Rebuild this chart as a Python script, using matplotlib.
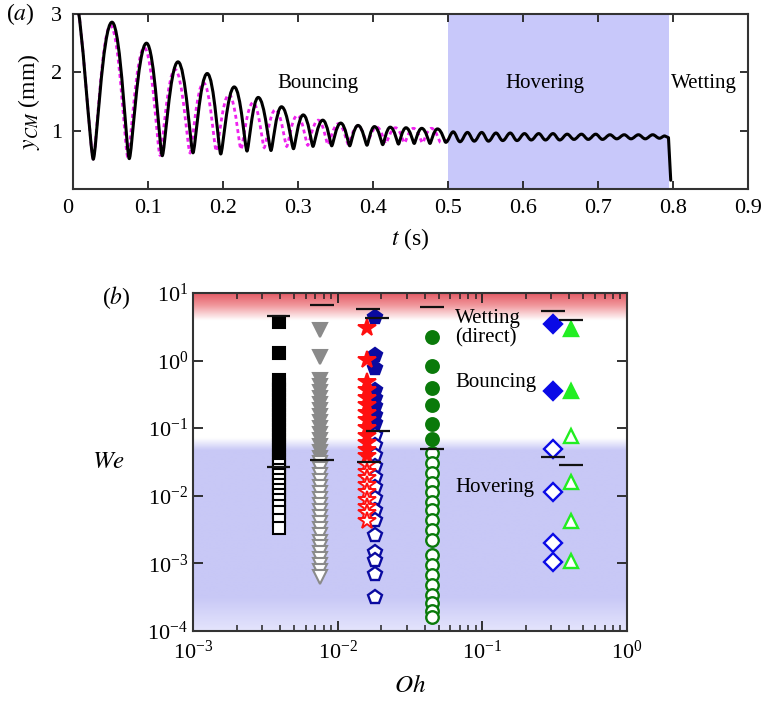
import numpy as np
import matplotlib
matplotlib.use("Agg")
import matplotlib.pyplot as plt
from matplotlib.path import Path
from matplotlib.patches import PathPatch
from matplotlib.ticker import LogLocator, NullFormatter

plt.rcParams['font.family'] = ['Liberation Serif', 'DejaVu Serif']
plt.rcParams['mathtext.fontset'] = 'stix'
plt.rcParams['xtick.direction'] = 'in'
plt.rcParams['ytick.direction'] = 'in'
plt.rcParams['xtick.top'] = True
plt.rcParams['ytick.right'] = True

# --- panel (a): centre-of-mass height, extrema ---
blk_tr_t = [0.027, 0.075, 0.119, 0.160, 0.197, 0.232, 0.264, 0.294, 0.320, 0.345,
            0.369, 0.392, 0.413, 0.434, 0.455, 0.476, 0.497]
blk_tr_y = [0.51, 0.52, 0.57, 0.62, 0.60, 0.65, 0.66, 0.69, 0.73, 0.74,
            0.74, 0.75, 0.76, 0.77, 0.78, 0.78, 0.80]
blk_pk_t = [0.052, 0.098, 0.140, 0.179, 0.215, 0.247, 0.278, 0.307, 0.333, 0.357,
            0.380, 0.402, 0.423, 0.444, 0.465, 0.486]
blk_pk_y = [2.86, 2.50, 2.18, 1.98, 1.75, 1.57, 1.41, 1.27, 1.18, 1.13,
            1.09, 1.07, 1.06, 1.05, 1.04, 1.03]
blk_start = (0.005, 3.15)

hover_t = [0.507, 0.516, 0.526, 0.535, 0.545, 0.554, 0.564, 0.573, 0.583, 0.592,
           0.602, 0.611, 0.621, 0.630, 0.640, 0.649, 0.659, 0.668, 0.678, 0.687,
           0.697, 0.706, 0.716, 0.725, 0.735, 0.744, 0.754, 0.763, 0.773, 0.782, 0.789]
hover_y = [0.98, 0.81, 0.97, 0.82, 0.97, 0.82, 0.96, 0.83, 0.96, 0.83,
           0.95, 0.84, 0.95, 0.84, 0.95, 0.84, 0.94, 0.85, 0.94, 0.85,
           0.94, 0.85, 0.93, 0.86, 0.93, 0.86, 0.93, 0.86, 0.93, 0.87, 0.91]
drop_t = [0.794, 0.797]
drop_y = [0.88, 0.15]

mag_tr_t = [0.027, 0.073, 0.116, 0.156, 0.191, 0.224, 0.255, 0.285, 0.313, 0.340,
            0.367, 0.392, 0.417, 0.442, 0.466, 0.490]
mag_tr_y = [0.52, 0.55, 0.58, 0.62, 0.65, 0.68, 0.71, 0.73, 0.75, 0.76,
            0.77, 0.78, 0.78, 0.79, 0.79, 0.80]
mag_pk_t = [0.050, 0.095, 0.136, 0.174, 0.208, 0.240, 0.270, 0.299, 0.327, 0.354,
            0.380, 0.405, 0.430, 0.454, 0.478]
mag_pk_y = [2.80, 2.42, 2.05, 1.82, 1.62, 1.48, 1.36, 1.26, 1.18, 1.12,
            1.08, 1.06, 1.05, 1.04, 1.04]
mag_start = (0.005, 3.15)
mag_end = (0.500, 0.84)

hover_span = (0.5, 0.795)
xticks_a = [0, 0.1, 0.2, 0.3, 0.4, 0.5, 0.6, 0.7, 0.8, 0.9]
xlabels_a = ["0", "0.1", "0.2", "0.3", "0.4", "0.5", "0.6", "0.7", "0.8", "0.9"]

# --- panel (b): regime map We vs Oh ---
sq_oh = 0.0039
sq_fill = [3.76, 1.29, 0.516, 0.435, 0.367, 0.310, 0.261, 0.220, 0.186, 0.157,
           0.132, 0.111, 0.094, 0.079, 0.067, 0.056, 0.048, 0.040, 0.034]
sq_open = [0.0286, 0.0241, 0.0204, 0.0171, 0.0144, 0.0122, 0.0103, 0.0087,
           0.0071, 0.0058, 0.0044, 0.0033]

tri_oh = 0.0076
tri_fill = [2.84, 1.13, 0.516, 0.421, 0.343, 0.280, 0.228, 0.186, 0.152, 0.124,
            0.101, 0.082, 0.067, 0.055, 0.045, 0.036]
tri_open = [0.0306, 0.0249, 0.0204, 0.0166, 0.0135, 0.0110, 0.0090, 0.0073,
            0.0060, 0.0049, 0.0040, 0.0032, 0.0026, 0.0021, 0.00175, 0.00143,
            0.00116, 0.00095, 0.00077, 0.00063]

star_oh = 0.0159
star_fill = [3.03, 1.02, 0.48, 0.37, 0.28, 0.22, 0.168, 0.132, 0.10, 0.077,
             0.060, 0.048, 0.039]
star_open = [0.0286, 0.0225, 0.0183, 0.0144, 0.0114, 0.0087, 0.0068, 0.0056, 0.0043]

pent_oh = 0.0181
pent_fill = [4.4, 1.21, 0.78, 0.37, 0.28, 0.21, 0.157, 0.12]
pent_open = [0.079, 0.056, 0.040, 0.0276, 0.019, 0.0135, 0.0093, 0.0062,
             0.0044, 0.0026, 0.00147, 0.00112, 0.0007, 0.00032]

circ_oh = 0.0447
circ_fill = [2.2, 0.83, 0.40, 0.22, 0.117, 0.069]
circ_open = [0.043, 0.0306, 0.0217, 0.0155, 0.0114, 0.0081, 0.0062, 0.0044,
             0.0031, 0.0022, 0.00133, 0.00095, 0.00068, 0.00048, 0.00034,
             0.00026, 0.00020, 0.00016]

diam_oh = 0.309
diam_fill = [3.44, 0.36]
diam_open = [0.050, 0.0115, 0.0020, 0.00104]

gtri_oh = 0.41
gtri_fill = [2.9, 0.35]
gtri_open = [0.077, 0.016, 0.0043, 0.00107]

bar_oh = [0.0039, 0.0039, 0.0078, 0.0078, 0.0161, 0.0164, 0.0187, 0.0190,
          0.0447, 0.0447, 0.309, 0.309, 0.41, 0.41]
bar_we = [4.5, 0.027, 6.6, 0.034, 5.9, 0.032, 4.3, 0.091,
          6.2, 0.049, 5.4, 0.038, 4.0, 0.029]


def seg(verts, codes, tb, yb, k_a, k_b):
    # cubic piece with flat tangents at both ends (k = handle length fraction)
    ta, ya = verts[-1]
    dt = tb - ta
    verts += [(ta + k_a * dt, ya), (tb - k_b * dt, yb), (tb, yb)]
    codes += [Path.CURVE4, Path.CURVE4, Path.CURVE4]


def bounce_path(start, tr_t, tr_y, pk_t, pk_y, end=None):
    # round-bottomed impacts, broad apexes
    t0, y0 = start
    verts = [(t0, y0)]
    codes = [Path.MOVETO]
    seg(verts, codes, tr_t[0], tr_y[0], 0.25, 0.15)
    for i in range(len(pk_t)):
        seg(verts, codes, pk_t[i], pk_y[i], 0.15, 0.5)
        seg(verts, codes, tr_t[i + 1], tr_y[i + 1], 0.5, 0.15)
    if end is not None:
        verts.append(end)
        codes.append(Path.LINETO)
    return verts, codes


def wave_path(verts, codes, ext_t, ext_y):
    # smooth half-waves between successive extrema
    for tb, yb in zip(ext_t, ext_y):
        seg(verts, codes, tb, yb, 0.3642, 0.3642)
    return verts, codes


fig = plt.figure(figsize=(7.62, 7.01), dpi=100)

# ---------------- (a) ----------------
ax1 = fig.add_axes([0.0958, 0.7304, 0.8858, 0.2496])
ax1.axvspan(*hover_span, color='#c8c8fa', lw=0, zorder=0)

v, c = bounce_path(mag_start, mag_tr_t, mag_tr_y, mag_pk_t, mag_pk_y, end=mag_end)
ax1.add_patch(PathPatch(Path(v, c), fill=False, edgecolor='#ee22ee', lw=2.0,
                        linestyle=(0, (1.4, 1.2)), zorder=2))

v, c = bounce_path(blk_start, blk_tr_t, blk_tr_y, blk_pk_t, blk_pk_y)
v, c = wave_path(v, c, hover_t, hover_y)
for tt, yy in zip(drop_t, drop_y):
    v.append((tt, yy))
    c.append(Path.LINETO)
ax1.add_patch(PathPatch(Path(v, c), fill=False, edgecolor='black', lw=2.2,
                        capstyle='round', joinstyle='round', zorder=3))

ax1.set_xlim(0, 0.9)
ax1.set_ylim(0, 3)
ax1.set_xticks(xticks_a)
ax1.set_xticklabels(xlabels_a)
ax1.xaxis.get_ticklabels()[0].set_horizontalalignment('right')
ax1.set_yticks([1, 2, 3])
ax1.tick_params(labelsize=16, length=6, width=1.3, colors='#222222', labelcolor='black')
ax1.tick_params(axis='y', pad=8)
ax1.tick_params(axis='x', pad=7)
for s in ax1.spines.values():
    s.set_linewidth(1.5)
    s.set_color('#333333')
ax1.set_ylabel('$y_{CM}$ (mm)', fontsize=17, labelpad=6)
ax1.set_xlabel('$t$ (s)', fontsize=17, labelpad=6)

ax1.text(0.326, 1.81, 'Bouncing', fontsize=15, ha='center', va='center')
ax1.text(0.629, 1.81, 'Hovering', fontsize=15, ha='center', va='center')
ax1.text(0.841, 1.81, 'Wetting', fontsize=15, ha='center', va='center')
fig.text(0.027, 0.98, '($a$)', fontsize=17, ha='center', va='center')

# ---------------- (b) ----------------
ax2 = fig.add_axes([0.2533, 0.0999, 0.5695, 0.4821])
ax2.set_xscale('log')
ax2.set_yscale('log')
ax2.set_xlim(1e-3, 1)
ax2.set_ylim(1e-4, 10)

# background: red (wetting) on top, white, lavender (hovering) below
stops_f = [0.0, 0.10, 0.535, 0.571, 0.92, 0.965, 1.0]
stops_c = np.array([[228, 228, 252], [200, 200, 246], [200, 200, 246],
                    [255, 255, 255], [255, 255, 255], [240, 150, 155],
                    [228, 92, 102]]) / 255.0
fr = np.linspace(0, 1, 600)
grad = np.stack([np.interp(fr, stops_f, stops_c[:, k]) for k in range(3)], axis=-1)
ax2.imshow(grad[::-1, None, :], extent=[0, 1, 0, 1], transform=ax2.transAxes,
           aspect='auto', interpolation='bilinear', zorder=0)


def column(oh, fill, opn, marker, color, ms, mew=1.5):
    ax2.plot([oh] * len(fill), fill, linestyle='none', marker=marker, ms=ms,
             mfc=color, mec=color, mew=mew, zorder=3)
    ax2.plot([oh] * len(opn), opn, linestyle='none', marker=marker, ms=ms,
             mfc='white', mec=color, mew=mew, zorder=3)


column(sq_oh, sq_fill, sq_open, 's', 'black', 8)
column(tri_oh, tri_fill, tri_open, 'v', '#8a8a8a', 10)
column(pent_oh, pent_fill, pent_open, 'p', '#0a0aa0', 10, 1.7)
column(star_oh, star_fill, star_open, '*', '#ff1010', 13, 1.4)
column(circ_oh, circ_fill, circ_open, 'o', '#0a7a0a', 9, 1.7)
column(diam_oh, diam_fill, diam_open, 'D', '#0a0ae6', 9, 1.7)
column(gtri_oh, gtri_fill, gtri_open, '^', '#22ee22', 10, 1.7)

for oh, we in zip(bar_oh, bar_we):
    ax2.hlines(we, oh / 1.21, oh * 1.21, color='#111111', lw=1.6, zorder=4)

ax2.xaxis.set_major_locator(LogLocator(base=10, numticks=10))
ax2.xaxis.set_minor_locator(LogLocator(base=10, subs=np.arange(2, 10), numticks=10))
ax2.yaxis.set_major_locator(LogLocator(base=10, numticks=10))
ax2.yaxis.set_minor_locator(LogLocator(base=10, subs=np.arange(2, 10), numticks=10))
ax2.xaxis.set_minor_formatter(NullFormatter())
ax2.yaxis.set_minor_formatter(NullFormatter())
ax2.tick_params(which='major', labelsize=16, length=7, width=1.3, colors='#222222',
                labelcolor='black')
ax2.tick_params(which='minor', length=4, width=1.1, colors='#222222')
ax2.tick_params(axis='x', pad=7)
ax2.tick_params(axis='y', which='minor', left=False, right=False)
for s in ax2.spines.values():
    s.set_linewidth(1.5)
    s.set_color('#333333')
ax2.set_xlabel('$Oh$', fontsize=18, labelpad=8)
ax2.set_ylabel('$We$', fontsize=18, rotation=0, labelpad=16, va='center', ha='right')

ax2.text(0.0647, 3.0, 'Wetting\n(direct)', fontsize=15, ha='left', va='center',
         linespacing=1.05, zorder=5)
ax2.text(0.0647, 0.47, 'Bouncing', fontsize=15, ha='left', va='center', zorder=5)
ax2.text(0.0647, 0.0134, 'Hovering', fontsize=15, ha='left', va='center', zorder=5)
fig.text(0.153, 0.576, '($b$)', fontsize=17, ha='center', va='center')

fig.savefig('out.png', dpi=100)
